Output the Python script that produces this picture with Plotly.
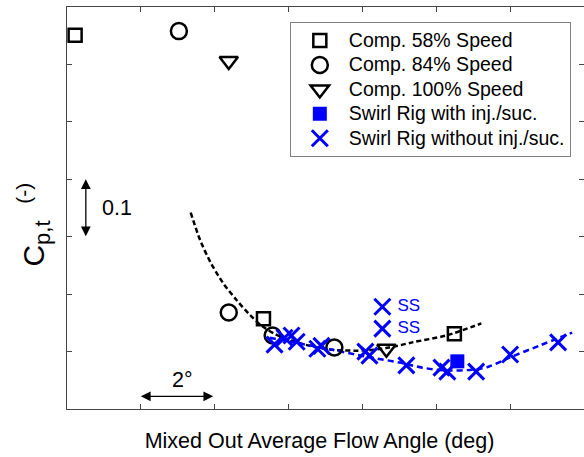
import plotly.graph_objects as go

FONT = "Liberation Sans, Arial, Helvetica, sans-serif"

# ---- data (flow angle in deg relative to axis origin, Cp,t) ----
comp58_x = [0.22, 5.32, 10.49]
comp58_y = [0.651, 0.157, 0.131]

comp84_x = [3.03, 4.38, 5.57, 7.24]
comp84_y = [0.658, 0.168, 0.128, 0.107]

comp100_x = [4.38, 8.65]
comp100_y = [0.606, 0.105]

swirl_inj_x = [10.57]
swirl_inj_y = [0.083]

swirl_x = [5.62, 5.89, 6.08, 6.22, 6.78, 6.89, 8.08, 8.19, 8.54, 8.54,
           9.19, 10.14, 10.30, 11.08, 12.00, 13.30]
swirl_y = [0.112, 0.124, 0.128, 0.117, 0.105, 0.110, 0.100, 0.093, 0.178, 0.140,
           0.076, 0.072, 0.065, 0.065, 0.095, 0.116]

comp_fit_x = [3.35, 3.60, 3.89, 4.22, 4.60, 4.95, 5.27, 5.65, 6.08, 6.57, 7.19,
              8.11, 8.73, 9.35, 10.27, 11.22]
comp_fit_y = [0.342, 0.295, 0.255, 0.220, 0.189, 0.164, 0.145, 0.130, 0.119, 0.110, 0.103,
              0.102, 0.107, 0.116, 0.128, 0.149]

swirl_fit_x = [5.49, 6.30, 7.19, 8.11, 9.00, 9.62, 10.27, 11.08, 11.43, 12.00,
               12.78, 13.68]
swirl_fit_y = [0.124, 0.114, 0.103, 0.091, 0.081, 0.072, 0.067, 0.069, 0.074, 0.090,
               0.110, 0.133]

ss_x = [8.95, 8.95]
ss_y = [0.178, 0.140]
ss_text = ["SS", "SS"]

x_ticks = [2, 4, 6, 8, 10, 12]
y_ticks = [0.1, 0.2, 0.3, 0.4, 0.5, 0.6]

BLUE = "#0000ff"
LEG_SIZE = 19.5


def leg(name):
    return f"<span style='font-size:{LEG_SIZE}px'>{name}</span>"


fig = go.Figure()

fig.add_trace(go.Scatter(x=comp_fit_x, y=comp_fit_y, mode="lines",
                         line=dict(color="black", width=2.5, dash="5px,3px", shape="spline",
                                   smoothing=0.8),
                         showlegend=False, hoverinfo="skip"))
fig.add_trace(go.Scatter(x=swirl_fit_x, y=swirl_fit_y, mode="lines",
                         line=dict(color=BLUE, width=2.5, dash="6px,4px", shape="spline",
                                   smoothing=0.8),
                         showlegend=False, hoverinfo="skip"))

fig.add_trace(go.Scatter(x=comp58_x, y=comp58_y, mode="markers", name=leg("Comp. 58% Speed"),
                         marker=dict(symbol="square-open", size=13, color="black",
                                     line=dict(width=2.5, color="black"))))
fig.add_trace(go.Scatter(x=comp84_x, y=comp84_y, mode="markers", name=leg("Comp. 84% Speed"),
                         marker=dict(symbol="circle-open", size=16, color="black",
                                     line=dict(width=2.5, color="black"))))
fig.add_trace(go.Scatter(x=comp100_x, y=comp100_y, mode="markers", name=leg("Comp. 100% Speed"),
                         marker=dict(symbol="triangle-down-open", size=16, color="black",
                                     line=dict(width=2.5, color="black"))))
fig.add_trace(go.Scatter(x=swirl_inj_x, y=swirl_inj_y, mode="markers",
                         name=leg("Swirl Rig with inj./suc."),
                         marker=dict(symbol="square", size=14, color=BLUE,
                                     line=dict(width=0))))
fig.add_trace(go.Scatter(x=swirl_x, y=swirl_y, mode="markers",
                         name=leg("Swirl Rig without inj./suc."),
                         marker=dict(symbol="x-thin-open", size=16, color=BLUE,
                                     line=dict(width=3, color=BLUE))))

fig.add_trace(go.Scatter(x=ss_x, y=ss_y, mode="text", text=ss_text, textposition="middle right",
                         textfont=dict(family=FONT, size=17, color=BLUE), yaxis="y2",
                         showlegend=False, hoverinfo="skip"))

axis_common = dict(showgrid=False, zeroline=False, linecolor="#444444",
                   linewidth=1, ticks="inside", ticklen=5, tickcolor="#444444",
                   showticklabels=False)

fig.update_layout(
    xaxis=dict(range=[0, 14], tickvals=x_ticks, showline=True, mirror="ticks", **axis_common,
               title=dict(text="Mixed Out Average Flow Angle (deg)&nbsp;&nbsp;",
                          font=dict(family=FONT, size=21.5, color="black"), standoff=23)),
    yaxis=dict(range=[0, 0.7], tickvals=y_ticks, showline=True, mirror=False, **axis_common,
               title=dict(text="C<sub><span style='font-size:22px'>p,t</span></sub>"
                               "&nbsp;&nbsp;<sup>(-)</sup>&nbsp;&nbsp;&nbsp;&nbsp;",
                          font=dict(family=FONT, size=30, color="black"), standoff=12)),
    yaxis2=dict(range=[0, 0.7], tickvals=y_ticks, overlaying="y", side="right",
                showline=False, **axis_common),
)

annotations = [
    dict(x=0.51, y=0.40, ax=0.51, ay=0.298, xref="x", yref="y", axref="x", ayref="y",
         text="", showarrow=True, arrowhead=2, arrowside="end+start", arrowsize=1.5,
         arrowwidth=1.3, arrowcolor="black"),
    dict(x=2.0, y=0.022, ax=4.0, ay=0.022, xref="x", yref="y", axref="x", ayref="y",
         text="", showarrow=True, arrowhead=2, arrowside="end+start", arrowsize=1.5,
         arrowwidth=1.3, arrowcolor="black"),
    dict(x=0.89, y=0.35, xref="x", yref="y", text="0.1", showarrow=False, xanchor="left",
         font=dict(family=FONT, size=21.5, color="black")),
    dict(x=3.12, y=0.05, xref="x", yref="y", text="2°", showarrow=False,
         font=dict(family=FONT, size=21.5, color="black")),
]

fig.update_layout(
    width=584, height=457,
    margin=dict(l=67, r=0, t=7, b=48),
    plot_bgcolor="white", paper_bgcolor="white",
    font=dict(family=FONT, size=19.5, color="black"),
    annotations=annotations,
    legend=dict(x=0.431, y=0.962, xanchor="left", yanchor="top",
                bgcolor="white", bordercolor="#808080", borderwidth=1,
                font=dict(family=FONT, size=16.5, color="black"),
                itemwidth=48, tracegroupgap=0),
    showlegend=True,
)

fig.write_html("out.html")
